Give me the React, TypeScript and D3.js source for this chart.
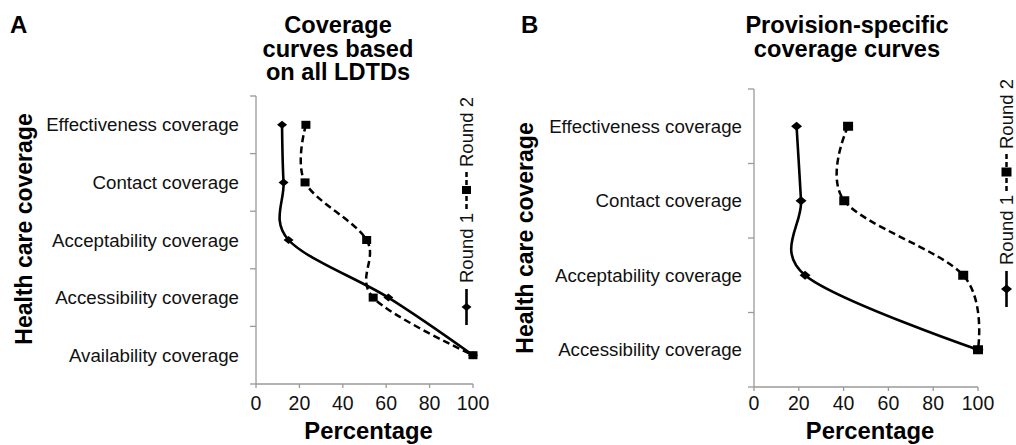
import * as d3 from 'd3';

// Panel A data (top to bottom)
const categoriesA = [
    'Effectiveness coverage',
    'Contact coverage',
    'Acceptability coverage',
    'Accessibility coverage',
    'Availability coverage',
];
const round1A = [12, 12.7, 15, 61, 100];
const round2A = [23, 22.6, 51, 54, 100];

// Panel B data (top to bottom)
const categoriesB = [
    'Effectiveness coverage',
    'Contact coverage',
    'Acceptability coverage',
    'Accessibility coverage',
];
const round1B = [19, 21, 22.8, 100];
const round2B = [42, 40.3, 93.4, 100];

const xTicks = [0, 20, 40, 60, 80, 100];
const seriesNames = ['Round 1', 'Round 2'];

const FONT = 'Liberation Sans, Arial, sans-serif';
const AXIS = '#9a9a9a';

interface PanelProps {
    letter: string;
    letterX: number;
    title: string[];
    titleX: number;
    categories: string[];
    round1: number[];
    round2: number[];
    xRange: [number, number];
    yRange: [number, number];
    labelGap: number;
    yLabelX: number;
    yLabelY: number;
    legendX: number;
    legendY: number;
    mark: number;
}

function diamondPath(w: number, h: number) {
    return `M0,${-h / 2}L${w / 2},0L0,${h / 2}L${-w / 2},0Z`;
}

function Panel(p: PanelProps) {
    const x = d3.scaleLinear().domain([0, 100]).range(p.xRange);
    const y = d3.scaleBand<string>().domain(p.categories).range(p.yRange);
    const yc = (c: string) => (y(c) ?? 0) + y.bandwidth() / 2;
    const bounds = p.categories.map(c => y(c) ?? 0).concat([p.yRange[1]]);

    // smoothed lines like the spreadsheet's "smoothed line" option
    const line = d3.line<[number, string]>()
        .x(d => x(d[0]))
        .y(d => yc(d[1]))
        .curve(d3.curveCardinal.tension(0));

    const s1: [number, string][] = p.round1.map((v, i) => [v, p.categories[i]]);
    const s2: [number, string][] = p.round2.map((v, i) => [v, p.categories[i]]);
    const x0 = p.xRange[0];
    const yBottom = p.yRange[1];
    const dw = p.mark + 2, dh = p.mark;
    const sw = p.mark + 1, sh = p.mark;

    return (
        <g fontFamily={FONT}>
            <text x={p.letterX} y={33} fontSize={24} fontWeight="bold">{p.letter}</text>
            {p.title.map((t, i) => (
                <text key={t} x={p.titleX} y={33 + i * 23.5} fontSize={23.6} fontWeight="bold" textAnchor="middle">{t}</text>
            ))}

            {/* y axis */}
            <line x1={x0} x2={x0} y1={p.yRange[0]} y2={yBottom} stroke={AXIS} strokeWidth={1.3} />
            {bounds.map((b, i) => (
                <line key={i} x1={x0 - 6} x2={x0} y1={b} y2={b} stroke={AXIS} strokeWidth={1.3} />
            ))}
            {p.categories.map(c => (
                <text key={c} x={x0 - p.labelGap} y={yc(c)} fontSize={18.7} textAnchor="end" dominantBaseline="central" fill="#111">{c}</text>
            ))}

            {/* x axis */}
            <line x1={x0} x2={p.xRange[1]} y1={yBottom} y2={yBottom} stroke={AXIS} strokeWidth={1.3} />
            {xTicks.map(t => (
                <g key={t}>
                    <line x1={x(t)} x2={x(t)} y1={yBottom} y2={yBottom + 4} stroke={AXIS} strokeWidth={1.3} />
                    <text x={x(t)} y={410} fontSize={19.5} textAnchor="middle" fill="#111">{t}</text>
                </g>
            ))}
            <text x={(p.xRange[0] + p.xRange[1]) / 2 + 4} y={439} fontSize={23.8} fontWeight="bold" textAnchor="middle">Percentage</text>
            <text transform={`translate(${p.yLabelX},${p.yLabelY}) rotate(-90)`} fontSize={23} fontWeight="bold" textAnchor="middle">Health care coverage</text>

            {/* series */}
            <path d={line(s2) ?? ''} fill="none" stroke="#000" strokeWidth={2.5} strokeDasharray="7,4" />
            <path d={line(s1) ?? ''} fill="none" stroke="#000" strokeWidth={2.6} />
            {s1.map((d, i) => (
                <path key={'d' + i} d={diamondPath(dw, dh)} transform={`translate(${x(d[0])},${yc(d[1])})`} fill="#000" />
            ))}
            {s2.map((d, i) => (
                <rect key={'s' + i} x={x(d[0]) - sw / 2} y={yc(d[1]) - sh / 2} width={sw} height={sh} fill="#000" />
            ))}

            {/* legend, rotated */}
            <g transform={`translate(${p.legendX},${p.legendY}) rotate(-90)`}>
                <line x1={0} x2={36} y1={-6.5} y2={-6.5} stroke="#000" strokeWidth={2.6} />
                <path d={diamondPath(dh, dw)} transform="translate(18,-6.5)" fill="#000" />
                <text x={42} y={0} fontSize={18.5} fill="#111">{seriesNames[0]}</text>
                <line x1={116} x2={154} y1={-6.5} y2={-6.5} stroke="#000" strokeWidth={2.5} strokeDasharray="5,3" />
                <rect x={135 - sh / 2} y={-6.5 - sw / 2} width={sh} height={sw} fill="#000" />
                <text x={158} y={0} fontSize={18.5} fill="#111">{seriesNames[1]}</text>
            </g>
        </g>
    );
}

export default function App() {
    return (
        <svg width={1016} height={445} style={{ position: 'absolute', left: 0, top: 0, background: '#fff' }}>
            <rect width={1016} height={445} fill="#fff" />
            <Panel
                letter="A" letterX={10}
                title={['Coverage', 'curves based', 'on all LDTDs']} titleX={338}
                categories={categoriesA} round1={round1A} round2={round2A}
                xRange={[256, 473]} yRange={[96, 384]} labelGap={17}
                yLabelX={31.5} yLabelY={229}
                legendX={473} legendY={325} mark={8}
            />
            <Panel
                letter="B" letterX={521}
                title={['Provision-specific', 'coverage curves']} titleX={847}
                categories={categoriesB} round1={round1B} round2={round2B}
                xRange={[754, 978]} yRange={[89, 387]} labelGap={12}
                yLabelX={533} yLabelY={238}
                legendX={1013} legendY={307} mark={9}
            />
        </svg>
    );
}
